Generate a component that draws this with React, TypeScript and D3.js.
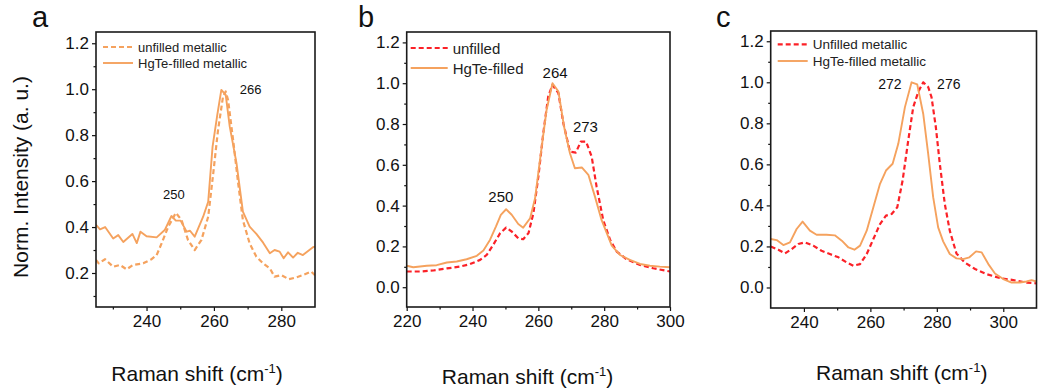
import React, { useEffect, useRef } from 'react';
import * as d3 from 'd3';

type Pt = [number, number];

// Raman spectra, [shift, normalised intensity]
const aUnfilled: Pt[] = [
  [225, 0.257], [225.8, 0.242], [227.7, 0.26], [230.1, 0.227], [232.1, 0.235], [234.1, 0.216],
  [236, 0.235], [239, 0.242], [241.5, 0.26], [243, 0.278], [244.5, 0.33], [246.4, 0.40],
  [248.7, 0.462], [250.4, 0.43], [252.3, 0.344], [254.3, 0.30], [256.3, 0.344], [258.3, 0.445],
  [259.8, 0.634], [261.2, 0.82], [262.7, 0.968], [263.5, 0.99], [264.2, 0.953], [265.7, 0.779],
  [267.2, 0.59], [268.6, 0.43], [270.6, 0.329], [272.6, 0.271], [274.6, 0.242], [276.6, 0.22],
  [278, 0.184], [280, 0.191], [282.2, 0.173], [284.5, 0.181], [286.4, 0.191], [288.9, 0.206],
  [290, 0.19],
];
const aFilled: Pt[] = [
  [225, 0.41], [226.2, 0.39], [227.7, 0.40], [230.1, 0.35], [231.6, 0.365], [233.1, 0.335],
  [235.8, 0.37], [237.1, 0.33], [238.2, 0.38], [240, 0.36], [243, 0.355], [245.4, 0.387],
  [247.4, 0.448], [248.7, 0.428], [250.1, 0.428], [251.9, 0.38], [252.9, 0.384], [254.3, 0.358],
  [256.8, 0.445], [258.3, 0.51], [259.6, 0.75], [261, 0.888], [262.2, 0.997], [263.5, 0.975],
  [264.7, 0.837], [266.7, 0.678], [268.6, 0.467], [270.6, 0.402], [272.6, 0.37], [274.6, 0.332],
  [276.6, 0.286], [278, 0.3], [279.5, 0.293], [280.7, 0.264], [282, 0.29], [283.5, 0.267],
  [284.9, 0.288], [286.4, 0.278], [289.4, 0.312], [290, 0.315],
];

const bUnfilled: Pt[] = [
  [220, 0.077], [224, 0.077], [228.1, 0.082], [232.2, 0.092], [236.2, 0.101], [239.2, 0.113],
  [242.3, 0.134], [244.3, 0.158], [246.3, 0.208], [248.4, 0.265], [250.2, 0.292], [251.9, 0.273],
  [253.9, 0.24], [255.4, 0.235], [257, 0.265], [258.5, 0.363], [260, 0.542], [261.5, 0.755],
  [263, 0.935], [264.3, 0.992], [266.1, 0.951], [267.6, 0.804], [269.6, 0.665], [271.4, 0.66],
  [272.9, 0.714], [274.5, 0.714], [276.2, 0.64], [277.7, 0.493], [279.7, 0.33], [281.8, 0.232],
  [283.8, 0.175], [286.8, 0.137], [290.9, 0.109], [294.9, 0.093], [300, 0.077],
];
const bFilled: Pt[] = [
  [220, 0.105], [222, 0.098], [226.1, 0.105], [229.1, 0.108], [232.2, 0.121], [235.2, 0.126],
  [238.2, 0.137], [241.3, 0.154], [243.3, 0.18], [245.3, 0.232], [247.1, 0.297], [248.6, 0.355],
  [250.2, 0.382], [251.9, 0.355], [253.9, 0.31], [255.4, 0.292], [257.5, 0.338], [259, 0.436],
  [260.5, 0.624], [262.5, 0.869], [264.3, 1.0], [266.1, 0.959], [267.8, 0.788], [269.6, 0.657],
  [271.1, 0.583], [273.2, 0.587], [275.2, 0.551], [277.2, 0.444], [279.2, 0.33], [280.8, 0.265],
  [282.3, 0.204], [284.8, 0.158], [287.8, 0.134], [290.9, 0.114], [293.9, 0.105], [296.9, 0.101],
  [300, 0.098],
];

const cUnfilled: Pt[] = [
  [230, 0.2], [232.3, 0.184], [234.3, 0.166], [236.3, 0.187], [238.3, 0.212], [240.3, 0.22],
  [242.8, 0.204], [245.3, 0.179], [247.8, 0.163], [250.4, 0.147], [252.9, 0.122], [254.9, 0.106],
  [256.9, 0.114], [258.9, 0.163], [260.9, 0.236], [262.9, 0.309], [264.7, 0.35], [266.4, 0.358],
  [268.1, 0.391], [269.7, 0.521], [271.4, 0.717], [272.9, 0.879], [274.4, 0.953], [275.9, 1.0],
  [277.4, 0.977], [278.4, 0.928], [279.7, 0.782], [280.9, 0.603], [282.4, 0.407], [283.9, 0.277],
  [285.9, 0.166], [288.4, 0.122], [291.5, 0.09], [295, 0.065], [299, 0.046], [303, 0.036],
  [307, 0.024], [310, 0.02],
];
const cFilled: Pt[] = [
  [230, 0.236], [231.8, 0.231], [233.8, 0.207], [235.8, 0.22], [237.8, 0.285], [239.6, 0.321],
  [241.8, 0.277], [243.8, 0.257], [246.8, 0.257], [249.3, 0.254], [251.4, 0.228], [253.4, 0.195],
  [255.2, 0.184], [256.9, 0.204], [258.9, 0.277], [260.9, 0.391], [262.9, 0.505], [264.7, 0.57],
  [266.7, 0.603], [268.4, 0.7], [270.4, 0.879], [272.4, 1.0], [274.1, 0.99], [275.9, 0.847],
  [277.4, 0.651], [278.9, 0.44], [280.4, 0.293], [281.9, 0.225], [283.9, 0.163], [285.9, 0.142],
  [287.9, 0.138], [289.8, 0.147], [291.8, 0.176], [293.5, 0.171], [295.5, 0.114], [297.5, 0.068],
  [300, 0.041], [302.5, 0.024], [305, 0.024], [307, 0.029], [308.5, 0.036], [310, 0.029],
];

const aXTicks = [240, 260, 280];
const aXMinor = [230, 250, 270];
const bXTicks = [220, 240, 260, 280, 300];
const bXMinor = [230, 250, 270, 290];
const cXTicks = [240, 260, 280, 300];
const cXMinor = [250, 270, 290];
const aYTicks = [0.2, 0.4, 0.6, 0.8, 1.0, 1.2];
const bcYTicks = [0.0, 0.2, 0.4, 0.6, 0.8, 1.0, 1.2];
const yMinor = [0.1, 0.3, 0.5, 0.7, 0.9, 1.1];

const aLegend = ['unfilled metallic', 'HgTe-filled metallic'];
const bLegend = ['unfilled', 'HgTe-filled'];
const cLegend = ['Unfilled metallic', 'HgTe-filled metallic'];

const aPeaks = ['250', '266'];
const bPeaks = ['250', '264', '273'];
const cPeaks = ['272', '276'];

const ORANGE = '#f5a25e';
const RED = '#fb2127';
const FONT = 'Liberation Sans, Arial, Helvetica, sans-serif';

interface PanelCfg {
  id: string;
  letter: string;
  letterPos: [number, number];
  frame: { left: number; right: number; top: number; bottom: number };
  xDomain: [number, number];
  yDomain: [number, number];
  xTicks: number[];
  xMinor: number[];
  yTicks: number[];
  unfilled: Pt[];
  filled: Pt[];
  dashColor: string;
  legend: string[];
  legendPos: { x: number; y1: number; y2: number; len: number; size: number };
  peaks: string[];
  peakPos: Pt[];
  peakSize: number;
  titleX: number;
  titleY: number;
}

const panels: PanelCfg[] = [
  {
    id: 'a', letter: 'a', letterPos: [32, 27],
    frame: { left: 96, right: 315, top: 32, bottom: 307 },
    xDomain: [225, 290], yDomain: [0.052, 1.249],
    xTicks: aXTicks, xMinor: aXMinor, yTicks: aYTicks,
    unfilled: aUnfilled, filled: aFilled, dashColor: ORANGE,
    legend: aLegend, legendPos: { x: 103, y1: 47, y2: 63, len: 30, size: 13 },
    peaks: aPeaks, peakPos: [[248.1, 0.54], [270.9, 0.997]], peakSize: 13,
    titleX: 197, titleY: 381,
  },
  {
    id: 'b', letter: 'b', letterPos: [358, 27],
    frame: { left: 406.7, right: 670, top: 32, bottom: 307 },
    xDomain: [220, 300], yDomain: [-0.097, 1.251],
    xTicks: bXTicks, xMinor: bXMinor, yTicks: bcYTicks,
    unfilled: bUnfilled, filled: bFilled, dashColor: RED,
    legend: bLegend, legendPos: { x: 410.7, y1: 48, y2: 68, len: 37, size: 15 },
    peaks: bPeaks, peakPos: [[248.6, 0.443], [265.1, 1.052], [274.3, 0.787]], peakSize: 15,
    titleX: 527.5, titleY: 384,
  },
  {
    id: 'c', letter: 'c', letterPos: [716, 27],
    frame: { left: 770.7, right: 1036.5, top: 31, bottom: 308 },
    xDomain: [230, 310], yDomain: [-0.1, 1.25],
    xTicks: cXTicks, xMinor: cXMinor, yTicks: bcYTicks,
    unfilled: cUnfilled, filled: cFilled, dashColor: RED,
    legend: cLegend, legendPos: { x: 777.7, y1: 44.3, y2: 61, len: 30, size: 13.5 },
    peaks: cPeaks, peakPos: [[265.9, 0.99], [283.6, 0.99]], peakSize: 14,
    titleX: 901.7, titleY: 380,
  },
];

function drawPanel(root: d3.Selection<SVGSVGElement, unknown, null, undefined>, p: PanelCfg) {
  const { left, right, top, bottom } = p.frame;
  const x = d3.scaleLinear().domain(p.xDomain).range([left, right]);
  const y = d3.scaleLinear().domain(p.yDomain).range([bottom, top]);
  const g = root.append('g');

  g.append('clipPath').attr('id', `clip-${p.id}`)
    .append('rect').attr('x', left).attr('y', top)
    .attr('width', right - left).attr('height', bottom - top);

  // axes: major ticks with labels, minor ticks without
  const xAxis = g.append('g').attr('transform', `translate(0,${bottom})`)
    .call(d3.axisBottom(x).tickValues(p.xTicks).tickSize(4).tickSizeOuter(0).tickPadding(4).tickFormat(d3.format('d')));
  g.append('g').attr('transform', `translate(0,${bottom})`)
    .call(d3.axisBottom(x).tickValues(p.xMinor).tickSize(2.5).tickSizeOuter(0).tickFormat(() => ''));
  const yAxis = g.append('g').attr('transform', `translate(${left},0)`)
    .call(d3.axisLeft(y).tickValues(p.yTicks).tickSize(4).tickSizeOuter(0).tickPadding(3).tickFormat(d3.format('.1f')));
  g.append('g').attr('transform', `translate(${left},0)`)
    .call(d3.axisLeft(y).tickValues(yMinor).tickSize(2.5).tickSizeOuter(0).tickFormat(() => ''));

  [xAxis, yAxis].forEach(ax => ax.selectAll('text')
    .attr('font-family', FONT).attr('font-size', 17).attr('fill', '#111'));
  g.selectAll('.domain').remove();
  g.selectAll('.tick line').attr('stroke', '#111').attr('stroke-width', 1.2);

  const line = d3.line<Pt>().x(d => x(d[0])).y(d => y(d[1]));
  const plot = g.append('g').attr('clip-path', `url(#clip-${p.id})`);
  plot.append('path').datum(p.unfilled).attr('d', line)
    .attr('fill', 'none').attr('stroke', p.dashColor).attr('stroke-width', 2.2)
    .attr('stroke-dasharray', '5,3').attr('stroke-linejoin', 'round');
  plot.append('path').datum(p.filled).attr('d', line)
    .attr('fill', 'none').attr('stroke', ORANGE).attr('stroke-width', 1.9)
    .attr('stroke-linejoin', 'round');

  g.append('rect').attr('x', left).attr('y', top)
    .attr('width', right - left).attr('height', bottom - top)
    .attr('fill', 'none').attr('stroke', '#1a1a1a').attr('stroke-width', 1.6);

  // legend
  const lp = p.legendPos;
  const leg = g.append('g').attr('font-family', FONT).attr('font-size', lp.size).attr('fill', '#222');
  leg.append('line').attr('x1', lp.x).attr('x2', lp.x + lp.len).attr('y1', lp.y1).attr('y2', lp.y1)
    .attr('stroke', p.dashColor).attr('stroke-width', 2.2).attr('stroke-dasharray', '5,3');
  leg.append('line').attr('x1', lp.x).attr('x2', lp.x + lp.len).attr('y1', lp.y2).attr('y2', lp.y2)
    .attr('stroke', ORANGE).attr('stroke-width', 1.9);
  leg.selectAll('text.lg').data(p.legend).enter().append('text')
    .attr('x', lp.x + lp.len + 5)
    .attr('y', (_, i) => (i === 0 ? lp.y1 : lp.y2))
    .attr('dominant-baseline', 'central')
    .text(d => d);

  // peak labels
  g.selectAll('text.pk').data(p.peaks).enter().append('text')
    .attr('x', (_, i) => x(p.peakPos[i][0]))
    .attr('y', (_, i) => y(p.peakPos[i][1]))
    .attr('text-anchor', 'middle').attr('dominant-baseline', 'central')
    .attr('font-family', FONT).attr('font-size', p.peakSize).attr('fill', '#111')
    .text(d => d);

  // x title with superscript
  const t = g.append('text').attr('x', p.titleX).attr('y', p.titleY)
    .attr('text-anchor', 'middle').attr('font-family', FONT).attr('font-size', 21).attr('fill', '#111');
  t.append('tspan').text('Raman shift (cm');
  t.append('tspan').attr('dy', -8).attr('font-size', 13).text('-1');
  t.append('tspan').attr('dy', 8).text(')');

  g.append('text').attr('x', p.letterPos[0]).attr('y', p.letterPos[1])
    .attr('font-family', FONT).attr('font-size', 29).attr('fill', '#111').text(p.letter);
}

const App: React.FC = () => {
  const svgRef = useRef<SVGSVGElement>(null);

  useEffect(() => {
    if (!svgRef.current) return;
    const svg = d3.select(svgRef.current);
    svg.selectAll('*').remove();

    panels.forEach(p => drawPanel(svg, p));

    svg.append('text')
      .attr('transform', 'translate(28,177) rotate(-90)')
      .attr('text-anchor', 'middle').attr('font-family', FONT).attr('font-size', 21).attr('fill', '#111')
      .text('Norm. Intensity (a. u.)');
  }, []);

  return (
    <svg ref={svgRef} width={1038} height={392}
      style={{ position: 'absolute', left: 0, top: 0, background: '#fff', display: 'block' }} />
  );
};

export default App;
